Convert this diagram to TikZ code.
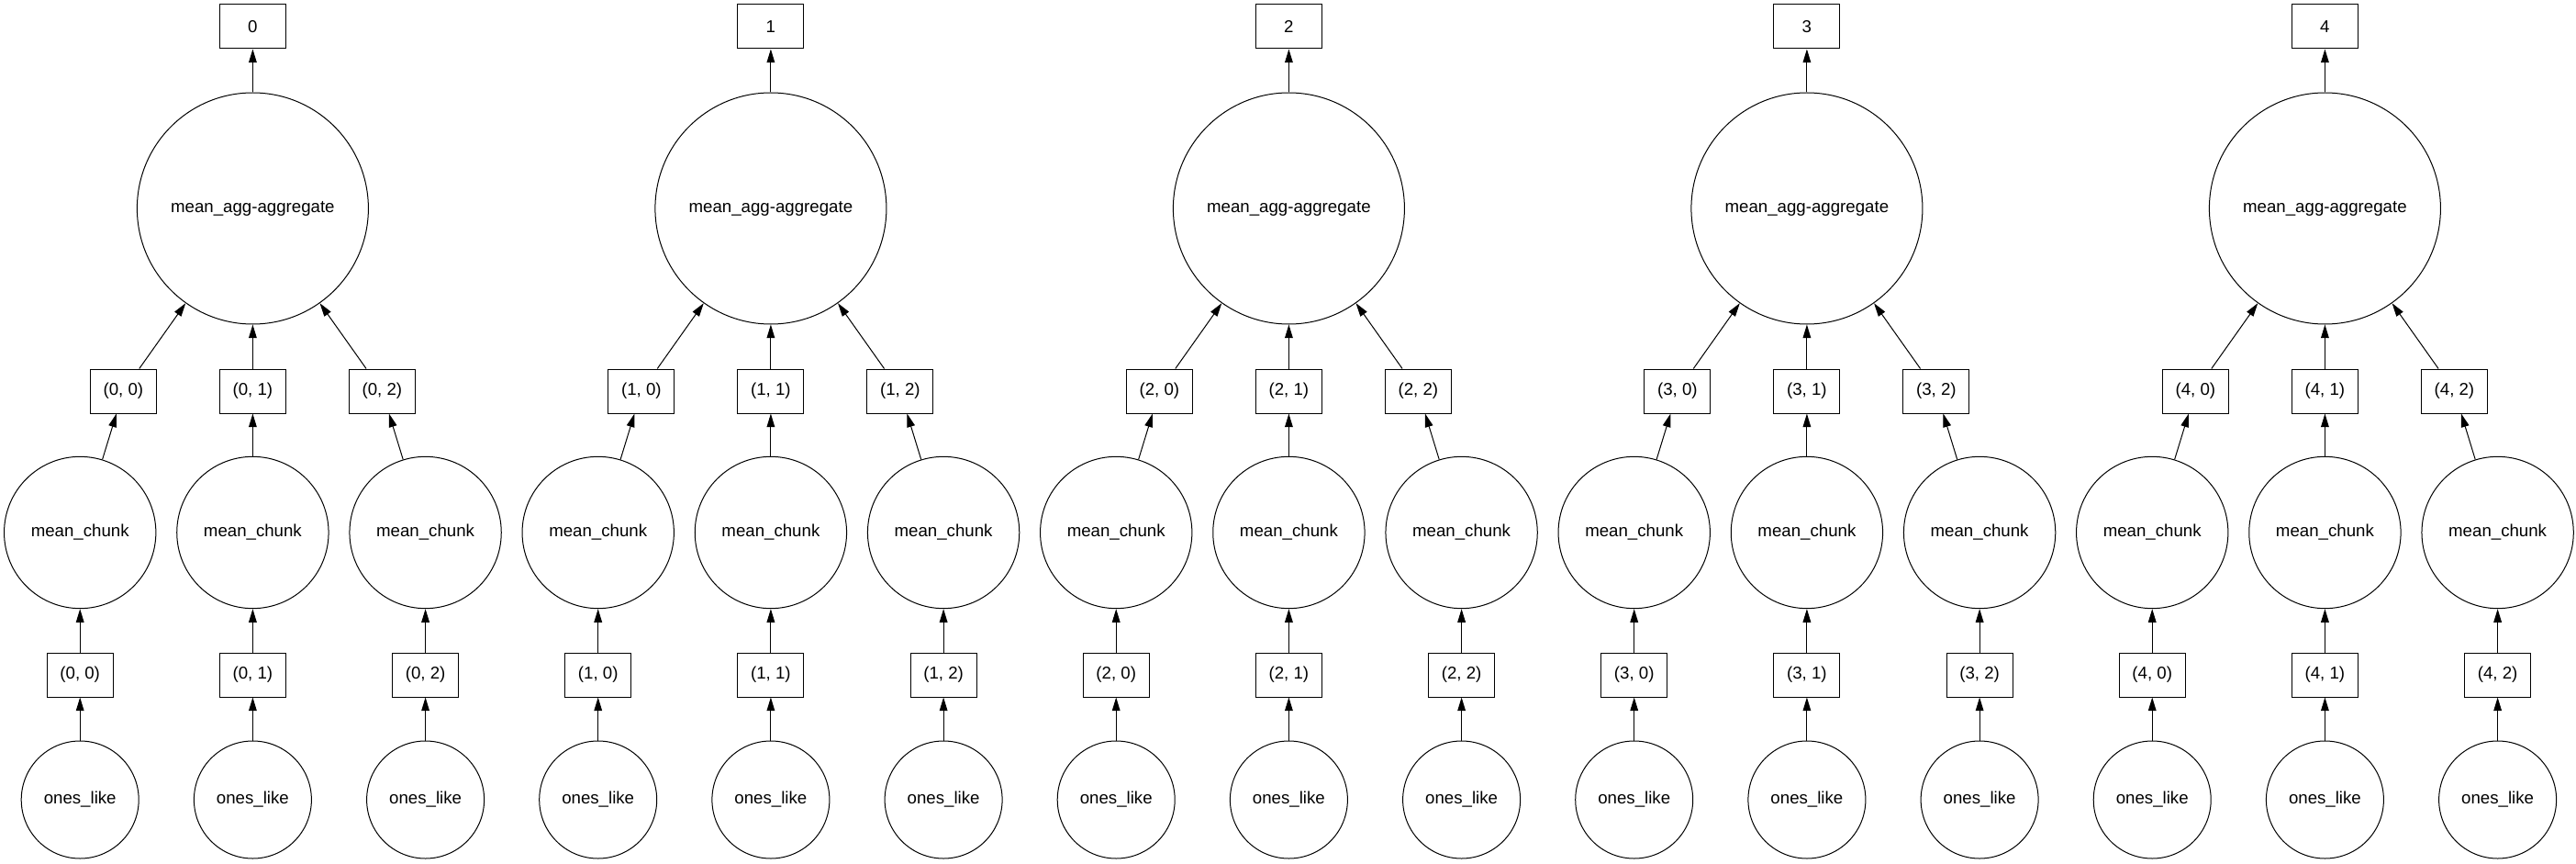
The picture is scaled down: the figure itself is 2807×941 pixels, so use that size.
\documentclass[tikz,border=0pt]{standalone}
\usepackage{fontspec}
\setmainfont{Liberation Sans}
\usetikzlibrary{arrows.meta}

\begin{document}
\begin{tikzpicture}[
  x=0.75pt, y=-0.75pt,
  every node/.style={font=\fontsize{14}{16}\selectfont, inner sep=0pt},
  line width=0.75pt,
  keybox/.style={draw, minimum width=54pt, minimum height=36pt},
  aggnode/.style={draw, circle, minimum size=189pt},
  chunknode/.style={draw, circle, minimum size=124pt},
  onesnode/.style={draw, circle, minimum size=96pt},
  arrow/.style={-{Triangle[length=11pt,width=6.5pt]}}
]
\useasboundingbox (0,0) rectangle (2807,941);
\foreach \g in {0,...,4} {
  \pgfmathsetmacro{\cx}{275.4+564.5*\g}
  \node[keybox] (out\g) at (\cx,29) {\g};
  \node[aggnode] (agg\g) at (\cx,227) {mean\_agg-aggregate};
  \draw[arrow] (agg\g) -- (out\g);
  \foreach \j in {0,1,2} {
    \pgfmathsetmacro{\mx}{\cx+141*(\j-1)}
    \pgfmathsetmacro{\bx}{\cx+188.2*(\j-1)}
    \node[keybox] (mid\g\j) at (\mx,426) {(\g, \j)};
    \node[chunknode] (chunk\g\j) at (\bx,580) {mean\_chunk};
    \node[keybox] (low\g\j) at (\bx,735) {(\g, \j)};
    \node[onesnode] (ones\g\j) at (\bx,871) {ones\_like};
    \draw[arrow] (mid\g\j) -- (agg\g);
    \draw[arrow] (chunk\g\j) -- (mid\g\j);
    \draw[arrow] (low\g\j) -- (chunk\g\j);
    \draw[arrow] (ones\g\j) -- (low\g\j);
  }
}
\end{tikzpicture}
\end{document}
